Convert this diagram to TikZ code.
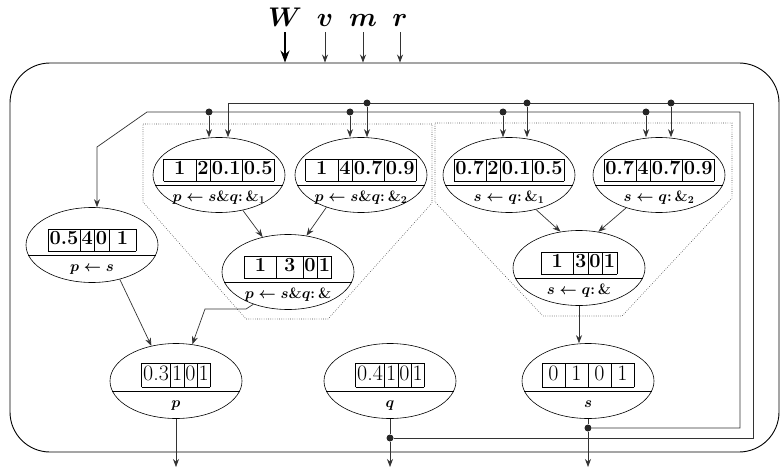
\RequirePackage{fix-cm}
\documentclass[tikz,border=0pt]{standalone}
\usetikzlibrary{arrows.meta, positioning, shapes.geometric, calc}

\newcommand{\cw}[2][1.45em]{\makebox[#1]{#2}}
\newcommand{\cellrow}[4]{\setlength{\tabcolsep}{1.6pt}%
  \begin{tabular}{|c|c|c|c|}\hline #1&#2&#3&#4\\\hline\end{tabular}}
% ellipse with value cells above the rule and the rule name below it
\newcommand{\ruleell}[5][valbox]{%
  \node[ell] (#2) at (#3) {};
  \draw[divline] (#2.189) -- (#2.351);
  \node[#1, anchor=south] (#2-t) at ([yshift=-7pt]#2.center) {#4};
  \node[lab, anchor=base] (#2-l) at ([yshift=-26pt]#2.center) {$#5$};
}

\begin{document}
\begin{tikzpicture}[
    x=1pt, y=-1pt,
    ell/.style={draw, ellipse, minimum width=132pt, minimum height=75pt,
        inner sep=0pt, line width=0.6pt},
    divline/.style={line width=0.6pt},
    valbox/.style={inner sep=0pt, font=\fontsize{20}{22}\selectfont\bfseries},
    valboxn/.style={inner sep=0pt, font=\fontsize{22}{24}\selectfont},
    lab/.style={inner sep=0pt, font=\fontsize{15}{17}\selectfont\boldmath},
    inlab/.style={inner sep=1pt, font=\fontsize{27}{30}\selectfont\boldmath},
    wire/.style={line width=0.7pt, black!80},
    arrow/.style={wire, -{Stealth[length=8pt, width=6pt]}},
    inarrow/.style={arrow, shorten <=4pt},
    bigarrow/.style={line width=1.8pt, -{Stealth[length=12pt, width=9pt]}, shorten <=4pt},
    wdot/.style={circle, fill=black!85, inner sep=0pt, minimum size=7pt},
    group/.style={black!75, line width=0.6pt, dash pattern=on 0.6pt off 1.6pt}
  ]
  \useasboundingbox (0,0) rectangle (781,476);

  % the whole system
  \node[draw, rounded corners=40pt, line width=0.9pt, inner sep=0pt,
        minimum width=769pt, minimum height=389pt] (sys) at (394.5,257.5) {};

  % inputs
  \node[inlab, anchor=base] (W) at (285,27) {$W$};
  \node[inlab, anchor=base] (v) at (325,27) {$v$};
  \node[inlab, anchor=base] (m) at (363,27) {$m$};
  \node[inlab, anchor=base] (r) at (400,27) {$r$};
  \draw[bigarrow] (W) -- (W |- sys.north);
  \foreach \n in {v, m, r}
    \draw[inarrow] (\n) -- (\n |- sys.north);

  % groups
  \draw[group] (143,124) -- (432,124) -- (432,203) -- (328,319) -- (246,319) -- (143,202) -- cycle;
  \draw[group] (435,123) -- (732,123) -- (732,198) -- (622,316) -- (543,316) -- (435,202) -- cycle;

  % rules
  \ruleell{e1}{219,175}{\cellrow{\cw{1}}{2}{0.1}{0.5}}{p \leftarrow s\&q{:}\,\&_1}
  \ruleell{e2}{361,175}{\cellrow{\cw{1}}{4}{0.7}{0.9}}{p \leftarrow s\&q{:}\,\&_2}
  \ruleell{e3}{288,272}{\cellrow{\cw{1}}{\cw[1.15em]{3}}{0}{1}}{p \leftarrow s\&q{:}\,\&}
  \ruleell{e4}{92,245}{\cellrow{0.5}{4}{0}{\cw[1.2em]{1}}}{p \leftarrow s}
  \ruleell{e5}{509,175}{\cellrow{0.7}{2}{0.1}{0.5}}{s \leftarrow q{:}\,\&_1}
  \ruleell{e6}{659,175}{\cellrow{0.7}{4}{0.7}{0.9}}{s \leftarrow q{:}\,\&_2}
  \ruleell{e7}{579,268}{\cellrow{\cw{1}}{3}{0}{1}}{s \leftarrow q{:}\,\&}

  % variables
  \ruleell[valboxn]{ep}{176,381}{\cellrow{0.3}{1}{0}{1}}{p}
  \ruleell[valboxn]{eq}{390,381}{\cellrow{0.4}{1}{0}{1}}{q}
  \ruleell[valboxn]{es}{588,381}{\cellrow{\cw[0.9em]{0}}{\cw[0.9em]{1}}{\cw[0.9em]{0}}{\cw[0.9em]{1}}}{s}

  % inside the groups
  \draw[arrow] (e1.-56) -- (e3.126);
  \draw[arrow] (e2.223) -- (e3.63);
  \draw[arrow] (e5.-52) -- (e7.117);
  \draw[arrow] (e6.225) -- (e7.62);

  % to the variables
  \coordinate (pk1) at (246,309);
  \coordinate (pk2) at (205,309);
  \draw[arrow] (e4.-51) -- (ep.125);
  \draw[arrow] (e3.223) -- (pk1) -- (pk2) -- (ep.66);
  \draw[arrow] (e7.south) -- (e7.south |- es.north);

  % outputs
  \node[wdot] (qd) at (390,438) {};
  \node[wdot] (sd) at (588,428) {};
  \coordinate (pout) at (176,467);
  \coordinate (qout) at (390,467);
  \coordinate (sout) at (588,467);
  \draw[arrow] (ep.south) -- (pout);
  \draw[arrow] (eq.south) -- (qd) -- (qout);
  \draw[arrow] (es.south) -- (sd) -- (sout);

  % q fed back
  \coordinate (qa) at (753,438);
  \coordinate (qb) at (753,103);
  \coordinate (qc) at (228,103);
  \draw[arrow] (qd) -- (qa) -- (qb) -- (qc) -- (qc |- e1.north);
  \foreach \n/\x/\e in {q2/367/e2, q3/527/e5, q4/671/e6} {
    \node[wdot] (\n) at (\x,103) {};
    \draw[arrow] (\n) -- (\n |- \e.north);
  }

  % s fed back
  \coordinate (sa) at (740,428);
  \coordinate (sb) at (740,112);
  \coordinate (sc) at (147,112);
  \coordinate (sk) at (97,147);
  \draw[arrow] (sd) -- (sa) -- (sb) -- (sc) -- (sk) -- (sk |- e4.north);
  \foreach \n/\x/\e in {s1/209/e1, s2/350/e2, s3/503/e5, s4/646/e6} {
    \node[wdot] (\n) at (\x,112) {};
    \draw[arrow] (\n) -- (\n |- \e.north);
  }
\end{tikzpicture}
\end{document}
